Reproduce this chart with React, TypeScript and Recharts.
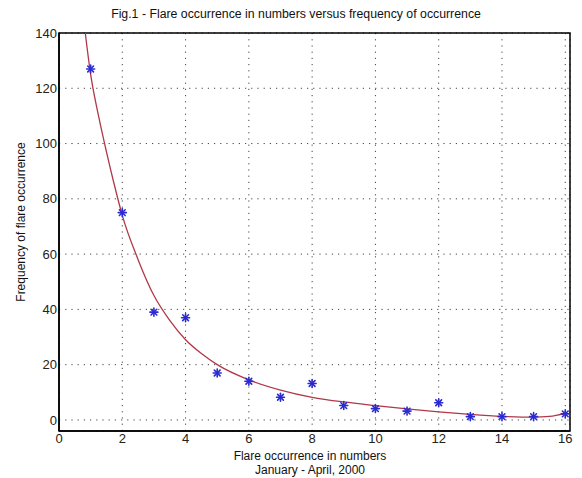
import { ComposedChart, Line, Scatter, XAxis, YAxis, CartesianGrid, ReferenceArea } from 'recharts'

// observed flare counts, Jan - Apr 2000
const occurrences = [1, 2, 3, 4, 5, 6, 7, 8, 9, 10, 11, 12, 13, 14, 15, 16]
const frequencies = [127, 75, 39, 37, 17, 14, 8.2, 13.2, 5.2, 4.1, 3.2, 6.2, 1.2, 1.2, 1.2, 2.2]

// fitted curve, sampled along x
const fitX = [0.83, 1, 1.25, 1.5, 1.75, 2, 2.5, 3, 3.5, 4, 4.5, 5, 6, 7, 8, 9, 10, 11, 12, 13, 14, 15, 15.5, 16]
const fitY = [140, 125, 110, 97, 85, 74, 58, 45, 36, 29, 24, 20, 14.5, 10.8, 8.2, 6.5, 5.2, 4, 2.9, 2, 1.3, 1.0, 1.3, 2.4]

const xTicks = [0, 2, 4, 6, 8, 10, 12, 14, 16]
const yTicks = [0, 20, 40, 60, 80, 100, 120, 140]

const points = occurrences.map((x, i) => ({ x, y: frequencies[i] }))
const fit = fitX.map((x, i) => ({ x, y: fitY[i] }))

const FONT = '"Liberation Sans", Arial, sans-serif'
const W = 582
const H = 478

function Asterisk(props: any) {
  const { cx, cy } = props
  const r = 4
  const d = r * 0.72
  return (
    <g stroke="#2b2bd0" strokeWidth={1.6} strokeLinecap="round">
      <line x1={cx - r} y1={cy} x2={cx + r} y2={cy} />
      <line x1={cx} y1={cy - r} x2={cx} y2={cy + r} />
      <line x1={cx - d} y1={cy - d} x2={cx + d} y2={cy + d} />
      <line x1={cx - d} y1={cy + d} x2={cx + d} y2={cy - d} />
    </g>
  )
}

export default function App() {
  return (
    <div style={{ position: 'absolute', left: 0, top: 0, width: W, height: H, background: '#fff', fontFamily: FONT }}>
      <ComposedChart width={W} height={H} margin={{ top: 33, right: 12, bottom: 27, left: 0 }}>
        <CartesianGrid stroke="#444" strokeDasharray="1.2 5" />
        <XAxis
          dataKey="x"
          type="number"
          domain={[0, 16.15]}
          ticks={xTicks}
          allowDataOverflow
          height={20}
          tickLine={false}
          tickSize={0}
          tickMargin={3}
          axisLine={{ stroke: '#000', strokeWidth: 1.5 }}
          tick={{ fill: '#222', fontSize: 13, fontFamily: FONT }}
        />
        <YAxis
          dataKey="y"
          type="number"
          domain={[-4, 140]}
          ticks={yTicks}
          allowDataOverflow
          width={59}
          tickLine={false}
          tickSize={0}
          tickMargin={2}
          axisLine={{ stroke: '#000', strokeWidth: 1.5 }}
          tick={{ fill: '#222', fontSize: 13, fontFamily: FONT }}
        />
        <ReferenceArea x1={0} x2={16.15} y1={-4} y2={140} fill="none" stroke="#000" strokeWidth={1.5} ifOverflow="visible" />
        <Line
          data={fit}
          dataKey="y"
          type="monotone"
          stroke="#b03848"
          strokeWidth={1.3}
          dot={false}
          activeDot={false}
          isAnimationActive={false}
        />
        <Scatter data={points} dataKey="y" shape={Asterisk} isAnimationActive={false} />
      </ComposedChart>
      <svg width={W} height={H} style={{ position: 'absolute', left: 0, top: 0, pointerEvents: 'none' }}>
        <text x={296} y={18} textAnchor="middle" fontSize={12.3} fontFamily={FONT} fill="#111">
          Fig.1 - Flare occurrence in numbers versus frequency of occurrence
        </text>
        <text x={310} y={460} textAnchor="middle" fontSize={12} fontFamily={FONT} fill="#111">
          Flare occurrence in numbers
        </text>
        <text x={310} y={474} textAnchor="middle" fontSize={12} fontFamily={FONT} fill="#111">
          January - April, 2000
        </text>
        <text
          x={0}
          y={0}
          transform="translate(25 222) rotate(-90)"
          textAnchor="middle"
          fontSize={12}
          fontFamily={FONT}
          fill="#111"
        >
          Frequency of flare occurrence
        </text>
      </svg>
    </div>
  )
}
